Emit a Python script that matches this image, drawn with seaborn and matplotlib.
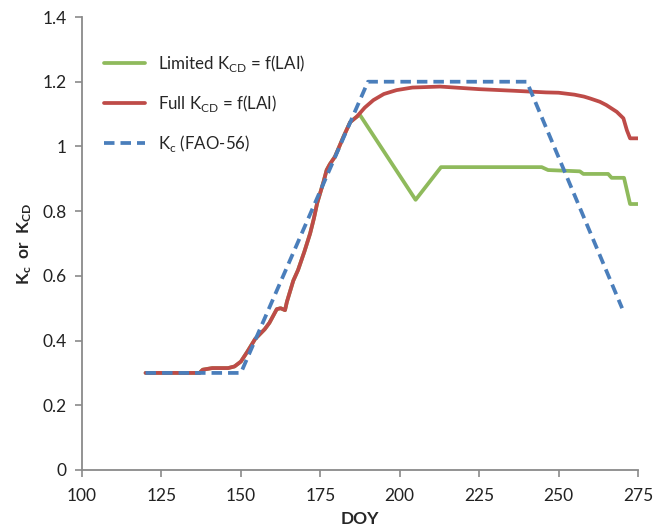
import matplotlib
matplotlib.use("Agg")
import matplotlib.pyplot as plt
import seaborn as sns
import pandas as pd
from matplotlib.ticker import FuncFormatter

# Crop coefficient curves over the season (day of year)
# Shared early-season portion of the LAI-based K_CD curve
early_doy = [120, 137, 138, 141, 146, 148, 150, 152, 154.5, 157.5, 159, 161.3, 162.5,
             163.9, 164.5, 166.5, 168, 170, 171.8, 173, 174, 176, 177, 178, 179.6,
             181, 182.3, 184.4, 186.5]
early_kcd = [0.30, 0.30, 0.31, 0.315, 0.315, 0.32, 0.335, 0.365, 0.405, 0.435, 0.455, 0.497,
             0.50, 0.494, 0.52, 0.585, 0.618, 0.675, 0.731, 0.778, 0.824, 0.89, 0.927, 0.945,
             0.968, 1.0, 1.03, 1.075, 1.092]

# Full K_CD = f(LAI), late season
full_late_doy = [189, 191.7, 195, 199, 204, 212.7, 225, 236, 246, 250, 255, 258, 260, 263,
                 265, 268.3, 270.4, 271.5, 272.5, 275]
full_late_kcd = [1.12, 1.143, 1.162, 1.174, 1.182, 1.185, 1.177, 1.172, 1.167, 1.166, 1.160,
                 1.154, 1.148, 1.138, 1.128, 1.107, 1.087, 1.05, 1.025, 1.025]

# Limited K_CD = f(LAI), late season
lim_late_doy = [187.5, 205, 213, 244.7, 246.7, 256.7, 257.8, 265.6, 266.7, 270.6, 272.5, 275]
lim_late_kcd = [1.097, 0.835, 0.936, 0.936, 0.927, 0.923, 0.915, 0.915, 0.903, 0.903, 0.822, 0.822]

# FAO-56 crop coefficient
fao_doy = [120, 150, 190, 240, 270]
fao_kc = [0.30, 0.30, 1.20, 1.20, 0.50]

x_ticks = [100, 125, 150, 175, 200, 225, 250, 275]
y_ticks = [0, 0.2, 0.4, 0.6, 0.8, 1.0, 1.2, 1.4]

limited = pd.DataFrame({"DOY": early_doy + lim_late_doy, "K": early_kcd + lim_late_kcd})
full = pd.DataFrame({"DOY": early_doy + full_late_doy, "K": early_kcd + full_late_kcd})
fao = pd.DataFrame({"DOY": fao_doy, "K": fao_kc})

sns.set_style("ticks")
plt.rcParams["font.family"] = ["Lato", "DejaVu Sans"]
plt.rcParams["mathtext.fontset"] = "custom"
plt.rcParams["mathtext.rm"] = "Lato"
plt.rcParams["mathtext.bf"] = "Lato:bold"

fig = plt.figure(figsize=(6.66, 5.32), dpi=100)
ax = fig.add_axes([82 / 666, 62 / 532, 556 / 666, 453 / 532])

green = "#8FBA5C"
red = "#BE4B48"
blue = "#4A7EBB"
lw = 2.7

sns.lineplot(data=limited, x="DOY", y="K", ax=ax, color=green, lw=lw, sort=False,
             label=r"Limited K$_{\mathregular{CD}}$ = f(LAI)")
sns.lineplot(data=full, x="DOY", y="K", ax=ax, color=red, lw=lw, sort=False,
             label=r"Full K$_{\mathregular{CD}}$ = f(LAI)")
sns.lineplot(data=fao, x="DOY", y="K", ax=ax, color=blue, lw=lw, sort=False,
             label=r"K$_{\mathregular{c}}$ (FAO-56)")
ax.lines[-1].set_dashes((2.8, 1.6))

ax.set_xlim(100, 275)
ax.set_ylim(0, 1.4)
ax.set_xticks(x_ticks)
ax.set_yticks(y_ticks)
ax.yaxis.set_major_formatter(FuncFormatter(lambda v, p: f"{v:g}"))

for side in ["top", "right"]:
    ax.spines[side].set_visible(False)
for side in ["left", "bottom"]:
    ax.spines[side].set_color("#8a8a8a")
    ax.spines[side].set_linewidth(1.3)
ax.tick_params(axis="both", direction="out", length=5, width=1.2, color="#8a8a8a",
               labelsize=12.5, labelcolor="#222222", pad=6)
ax.tick_params(axis="x", pad=8)

ax.set_xlabel("DOY", fontsize=12.5, fontweight="bold", labelpad=5)
ax.set_ylabel(r"$\mathbf{K_{\mathregular{c}}}$  or  $\mathbf{K_{\mathregular{CD}}}$",
              fontsize=12.5, fontweight="bold", labelpad=6)

leg = ax.legend(loc="upper left", bbox_to_anchor=(0.012, 0.955), frameon=False,
                fontsize=12.2, handlelength=2.4, labelspacing=1.12, handletextpad=0.8)
for h in leg.get_lines():
    h.set_linewidth(lw)

fig.savefig("out.png", dpi=100)
